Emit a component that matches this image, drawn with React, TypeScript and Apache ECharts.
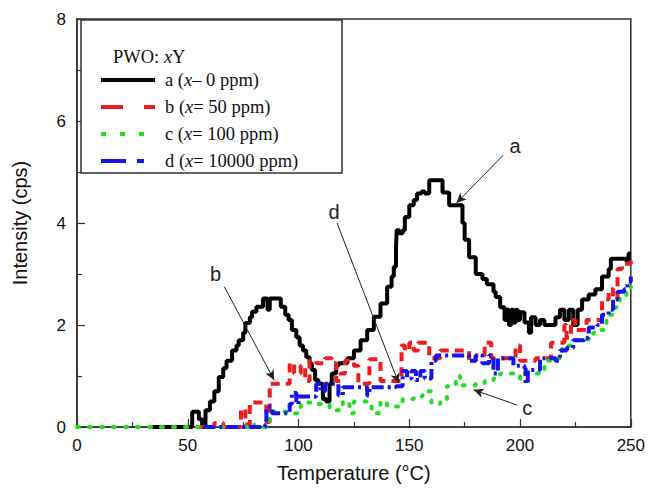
import React, { useEffect, useRef } from "react";
import * as echarts from "echarts";

// Temperature (°C), intensity (cps) — staircase points (value holds from x until next x)
const curveA: [number, number][] = [
  [34, 0], [52, 0.3], [55, 0.15], [56.5, 0], [58, 0.33], [60, 0.5], [62, 0.7], [64, 0.98], [66, 1.15],
  [67.5, 1.3], [70, 1.5], [72, 1.6], [73, 1.7], [75, 1.85], [76, 2.04], [78, 2.15], [79, 2.26], [81, 2.36],
  [84, 2.52], [86, 2.3], [87, 2.52], [90, 2.52], [92, 2.36], [94, 2.2], [95.5, 2.1], [97, 1.9], [99, 1.76],
  [100.5, 1.6], [102, 1.5], [103.5, 1.37], [105, 1.25], [106, 1.12], [107.5, 0.92], [109, 0.85], [111, 0.55],
  [112.5, 0.5], [114, 0.85], [115, 1.05], [117, 1.2], [118, 1.25], [122, 1.35], [125, 1.5], [128, 1.7],
  [131, 1.9], [134, 2.16], [137, 2.42], [140, 2.75], [142, 2.95], [143, 3.14], [144, 3.5], [144.3, 3.86],
  [145.5, 3.8], [147, 3.86], [148, 4.12], [150, 4.35], [152, 4.45], [153.5, 4.58], [155.5, 4.62], [157, 4.58],
  [159, 4.84], [165, 4.6], [168, 4.35], [173.5, 4.35], [174, 4.0], [175, 3.67], [177, 3.33], [180, 3.0],
  [183, 2.9], [185, 2.8], [188, 2.65], [189, 2.55], [191, 2.35], [193, 2.1], [194, 2.3], [195, 2.0],
  [196, 2.3], [197, 2.05], [198, 2.3], [199, 2.1], [200, 2.25], [202, 2.05], [204, 1.85], [205, 2.15],
  [207, 2.0], [209, 2.1], [211, 2.0], [214, 2.0], [216, 2.15], [218, 2.3], [220, 2.1], [222, 2.3],
  [224, 2.0], [226, 2.3], [228, 2.5], [231, 2.6], [234, 2.7], [237, 2.95], [240, 3.1], [241, 3.3],
  [245, 3.3], [248, 3.25], [249, 3.4], [250, 3.4],
];

const curveB: [number, number][] = [
  [54, 0], [62, 0.08], [66, 0], [74, 0.35], [76, 0.05], [78, 0.48], [84, 0.4], [85.5, 0.1], [87, 0.85],
  [96, 1.25], [98, 1.05], [101, 1.2], [103, 0.9], [105, 1.3], [108, 1.25], [112, 1.35], [115, 1.25],
  [117, 0.9], [119, 1.05], [121, 1.3], [125, 1.2], [127, 0.85], [132, 1.33], [137, 0.9], [146.5, 1.6],
  [148, 1.5], [150, 1.65], [152, 1.5], [154, 1.65], [159, 1.35], [164, 1.5], [177, 1.3], [180, 1.4],
  [184, 1.65], [187, 1.35], [198, 1.6], [200, 1.3], [207, 1.35], [214, 1.65], [220, 2.0], [221, 1.75],
  [223, 2.1], [225, 1.9], [230, 2.1], [235, 2.1], [237, 2.5], [240, 2.7], [242, 2.5], [244, 3.1],
  [246, 3.2], [250, 3.3],
];

const curveC: [number, number][] = [
  [0, 0], [78, 0.05], [80, 0], [87, 0.3], [94, 0.3], [96, 0.27], [101, 0.48], [107, 0.45], [110, 0.45],
  [114, 0.33], [118, 0.33], [120, 0.5], [123, 0.27], [125, 0.5], [130, 0.5], [133, 0.27], [137, 0.5],
  [140, 0.4], [147, 0.55], [152, 0.6], [156, 0.7], [160, 0.45], [164, 0.5], [167, 0.8], [171, 1.0],
  [173, 0.82], [180, 0.85], [184, 0.9], [188, 0.95], [191, 1.05], [196, 1.05], [200, 0.95], [202, 1.05],
  [208, 1.05], [211, 1.3], [215, 1.35], [219, 1.6], [223, 1.7], [228, 1.72], [233, 1.85], [236, 1.9],
  [239, 2.2], [243, 2.35], [245, 2.55], [248, 2.65], [250, 2.75],
];

const curveD: [number, number][] = [
  [57, 0], [85, 0.05], [85.5, 0.4], [88, 0.27], [93, 0.27], [96, 0.45], [97, 0.67], [99, 0.45], [100, 0.6],
  [105, 0.6], [108, 0.85], [110, 0.7], [112, 0.85], [116, 0.85], [118, 0.62], [120, 0.78], [129, 0.78],
  [131, 0.62], [132, 0.78], [144, 0.8], [147, 1.1], [149, 0.95], [151, 1.1], [153, 0.92], [155, 1.1],
  [157, 0.95], [160, 1.3], [162, 1.4], [175, 1.4], [177, 1.3], [180, 1.4], [183, 1.25], [186, 1.4],
  [188, 1.05], [190, 1.35], [195, 1.35], [197, 1.2], [202, 1.15], [202.5, 0.85], [203.5, 1.12], [209, 1.35],
  [213, 1.35], [216, 1.3], [218, 1.5], [221, 1.55], [224, 1.7], [229, 1.75], [231, 1.95], [235, 2.0],
  [237, 2.2], [240, 2.3], [242, 2.5], [244, 2.65], [247, 2.7], [248.5, 2.85], [250, 2.95],
];

const legendTitle = "PWO: {i|x}Y";
const legendLabels = ["a ({i|x}– 0 ppm)", "b ({i|x}= 50 ppm)", "c ({i|x}= 100 ppm)", "d ({i|x}= 10000 ppm)"];

// Annotation letters and arrows: [label x, label y], arrow [from], [to]
const annotations: { name: string; label: [number, number]; from: [number, number]; to: [number, number] }[] = [
  { name: "a", label: [197.8, 5.51], from: [192.4, 5.33], to: [171.3, 4.39] },
  { name: "b", label: [62.5, 3.0], from: [66.5, 2.75], to: [89, 0.92] },
  { name: "d", label: [116, 4.22], from: [117.4, 4.0], to: [145.2, 0.86] },
  { name: "c", label: [203.2, 0.37], from: [198.7, 0.43], to: [179, 0.73] },
];

const xTicks = { min: 0, max: 250, interval: 50 };
const yTicks = { min: 0, max: 8, interval: 2 };

const colors = ["#000000", "#ee1c1c", "#22dd22", "#1414ee"];

export default function App() {
  const ref = useRef<HTMLDivElement>(null);
  useEffect(() => {
    if (!ref.current) return;
    const chart = echarts.init(ref.current, undefined, { renderer: "svg" });
    const sans = "Liberation Sans, Arial, sans-serif";
    const serif = "Liberation Serif, Times New Roman, serif";
    const lineDashes: any[] = ["solid", [9, 6], [2, 10], [12, 4, 3, 4]];
    const legendDashes: any[] = [null, [22, 21], [5, 14], [25, 11, 7, 11]];
    const legendY = [80, 107, 134, 161];
    const richItalic = { i: { fontStyle: "italic", fontSize: 18.5, fontFamily: serif, fill: "#111" } };

    const graphic: any[] = [
      {
        type: "rect",
        shape: { x: 81, y: 20, width: 261, height: 153 },
        style: { fill: "#fff", stroke: "#333", lineWidth: 1.5 },
        z: 50,
      },
      {
        type: "text",
        x: 113,
        y: 57,
        style: { text: legendTitle, font: `18.5px ${serif}`, fill: "#111", verticalAlign: "middle", rich: richItalic },
        z: 51,
      },
    ];
    legendLabels.forEach((t, i) => {
      graphic.push({
        type: "line",
        shape: { x1: 101, y1: legendY[i], x2: 155, y2: legendY[i] },
        style: { stroke: colors[i], lineWidth: 4, lineDash: legendDashes[i] || undefined, lineCap: "butt" },
        z: 51,
      });
      graphic.push({
        type: "text",
        x: 165,
        y: legendY[i],
        style: { text: t, font: `18.5px ${serif}`, fill: "#111", verticalAlign: "middle", rich: richItalic },
        z: 51,
      });
    });

    const curves = [curveA, curveB, curveC, curveD];
    const names = ["a", "b", "c", "d"];
    const series: any[] = curves.map((c, i) => ({
      type: "line",
      name: names[i],
      data: c,
      step: "end",
      symbol: "none",
      lineStyle: { color: colors[i], width: 4, type: lineDashes[i], cap: i === 2 ? "round" : "butt" },
      z: 2 + i,
    }));
    series.push({
      type: "line",
      name: "annotations",
      data: [],
      symbol: "none",
      markLine: {
        silent: true,
        symbol: ["none", "arrow"],
        symbolSize: [7, 10],
        label: { show: false },
        lineStyle: { color: "#222", width: 1, type: "solid" },
        data: annotations.map((a) => [{ coord: a.from }, { coord: a.to }]),
      },
      markPoint: {
        silent: true,
        symbol: "circle",
        symbolSize: 0,
        label: { show: true, formatter: "{b}", fontSize: 20, fontFamily: sans, color: "#222" },
        data: annotations.map((a) => ({ name: a.name, coord: a.label })),
      },
      z: 10,
    });

    chart.setOption({
      animation: false,
      backgroundColor: "#fff",
      grid: { left: 77, right: 15, top: 19, bottom: 62, show: true, borderColor: "#333", borderWidth: 1.5, backgroundColor: "transparent" },
      xAxis: {
        type: "value",
        ...xTicks,
        name: "Temperature (°C)",
        nameLocation: "middle",
        nameGap: 36,
        nameTextStyle: { fontSize: 20, fontFamily: sans, color: "#111" },
        axisLine: { show: true, lineStyle: { color: "#333", width: 1.5 } },
        axisTick: { show: true, inside: true, length: 8, lineStyle: { color: "#333", width: 1.2 } },
        minorTick: { show: true, splitNumber: 2, length: 5, lineStyle: { color: "#333", width: 1.2 } },
        axisLabel: { fontSize: 17, fontFamily: sans, color: "#111", margin: 10 },
        splitLine: { show: false },
      },
      yAxis: {
        type: "value",
        ...yTicks,
        name: "Intensity (cps)",
        nameLocation: "middle",
        nameGap: 47,
        nameTextStyle: { fontSize: 20, fontFamily: sans, color: "#111" },
        axisLine: { show: true, lineStyle: { color: "#333", width: 1.5 } },
        axisTick: { show: true, inside: true, length: 8, lineStyle: { color: "#333", width: 1.2 } },
        minorTick: { show: true, splitNumber: 2, length: 5, lineStyle: { color: "#333", width: 1.2 } },
        axisLabel: { fontSize: 17, fontFamily: sans, color: "#111", margin: 11 },
        splitLine: { show: false },
      },
      graphic,
      series,
    });
    return () => chart.dispose();
  }, []);
  return <div ref={ref} style={{ width: 648, height: 489, position: "absolute", left: 0, top: 0 }} />;
}
